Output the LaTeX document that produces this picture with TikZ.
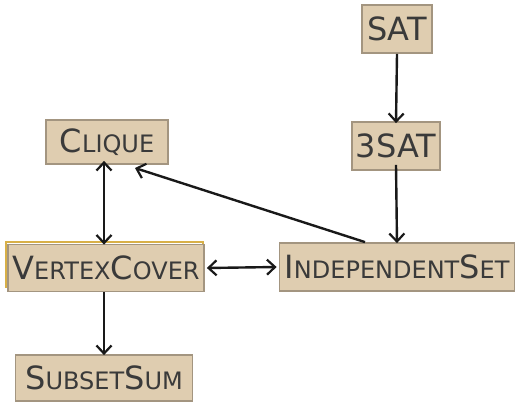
\documentclass[tikz,border=0pt]{standalone}
\usepackage{fontspec}
\setmainfont{DejaVu Sans}
\usetikzlibrary{arrows.meta}
\definecolor{boxfill}{HTML}{DFCDB0}
\definecolor{boxline}{HTML}{A39580}
\definecolor{txt}{HTML}{3A3A3A}
\definecolor{yel}{HTML}{D8B048}
\newcommand\Lg[1]{{\fontsize{32}{32}\selectfont #1}}
\newcommand\Sm[1]{{\fontsize{24}{24}\selectfont #1}}
\begin{document}
\begin{tikzpicture}[x=1pt,y=-1pt,
  box/.style={draw=boxline, line width=1.8pt, fill=boxfill, text=txt, inner sep=0pt, anchor=center},
  tip/.tip={Straight Barb[length=8pt,width=15pt,line width=2.2pt]},
  arr/.style={line width=2.4pt, black!90, -tip},
  darr/.style={line width=2.4pt, black!90, tip-tip}]
\useasboundingbox (0,0) rectangle (516,403);
\node[box, minimum width=70, minimum height=48] (sat) at (397,29) {\Lg{SAT}};
\node[box, minimum width=88, minimum height=48] (tsat) at (396,146) {\Lg{3SAT}};
\node[box, minimum width=122, minimum height=44] (clique) at (107,142) {\Lg{C}\Sm{LIQUE}};
\draw[yel, line width=1.4pt] (6,242) rectangle (203,287);
\node[box, minimum width=196, minimum height=47] (vc) at (106,268) {\Lg{V}\Sm{ERTEX}\Lg{C}\Sm{OVER}};
\node[box, minimum width=235, minimum height=48] (is) at (397,267) {\Lg{I}\Sm{NDEPENDENT}\Lg{S}\Sm{ET}};
\node[box, minimum width=177, minimum height=46] (ss) at (104,378) {\Lg{S}\Sm{UBSET}\Lg{S}\Sm{UM}};
\draw[arr] (sat.south) -- ([yshift=-2]tsat.north);
\draw[arr] ([yshift=6]tsat.south) -- ([yshift=-1]is.north);
\draw[darr] ([yshift=4]clique.south -| 104,0) -- ([yshift=-1]vc.north -| 104,0);
\draw[darr] ([xshift=2]vc.east) -- ([xshift=-2]is.west);
\draw[arr] ([xshift=-32]is.north) -- (135,168);
\draw[arr] (vc.south -| 104,0) -- ([yshift=-1]ss.north -| 104,0);
\end{tikzpicture}
\end{document}
